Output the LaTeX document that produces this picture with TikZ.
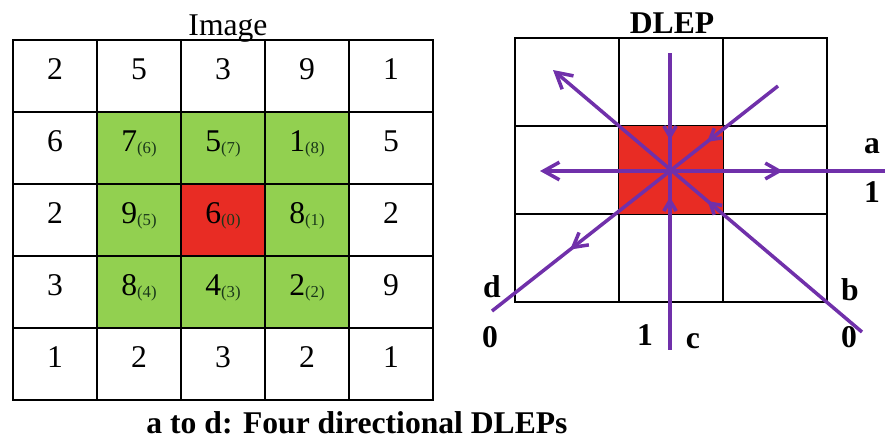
\documentclass[tikz,border=0pt]{standalone}
\usepackage{fontspec}
\setmainfont{Liberation Serif}
\usetikzlibrary{arrows.meta, decorations.markings}
\definecolor{leafgreen}{RGB}{146,208,80}
\definecolor{pixred}{RGB}{232,44,36}
\definecolor{dirpurple}{RGB}{112,48,170}
\definecolor{subink}{RGB}{25,55,25}
\newcommand{\nbr}[1]{\raisebox{-1pt}{\fontsize{9.5}{10}\selectfont\color{subink}(#1)}}

\begin{document}
\begin{tikzpicture}[x=0.02cm, y=-0.02cm,
    pix/.style={draw, line width=1pt, minimum width=1.68cm, minimum height=1.44cm,
                inner sep=0pt, text height=0.68em, text depth=0.28em,
                font=\fontsize{18}{20}\selectfont},
    dcell/.style={draw, line width=0.6pt, minimum width=2.08cm, minimum height=1.76cm, inner sep=0pt},
    dir/.style={line width=2pt, dirpurple},
    midtip/.style={postaction={decorate, decoration={markings,
        mark=at position #1 with {\arrow{Straight Barb[length=6pt, width=7pt]}}}}},
    bigmid/.style={postaction={decorate, decoration={markings,
        mark=at position #1 with {\arrow{Straight Barb[length=8pt, width=9pt]}}}}},
    backtip/.style={postaction={decorate, decoration={markings,
        mark=at position #1 with {\arrowreversed{Straight Barb[length=6pt, width=7pt]}}}}},
    lbl/.style={font=\bfseries\fontsize{18}{20}\selectfont, anchor=base, inner sep=0pt}
]
\useasboundingbox (0,0) rectangle (889,444);

% image patch
\fill[leafgreen] (97,112) rectangle (349,328);
\fill[pixred] (181,184) rectangle (265,256);
\foreach \vals [count=\j from 0] in {{2,5,3,9,1},{6,7\nbr{6},5\nbr{7},1\nbr{8},5},
    {2,9\nbr{5},6\nbr{0},8\nbr{1},2},{3,8\nbr{4},4\nbr{3},2\nbr{2},9},{1,2,3,2,1}}
  \foreach \v [count=\i from 0] in \vals
    \node[pix] (img-\i-\j) at ({55+84*\i},{76+72*\j}) {\v};
\node[font=\fontsize{18}{20}\selectfont, anchor=base, inner sep=0pt] (imgtitle) at (228,35) {Image};

% DLEP grid
\foreach \i in {0,1,2}
  \foreach \j in {0,1,2}
    \node[dcell] (dl-\i-\j) at ({567+104*\i},{82+88*\j}) {};
\fill[pixred, draw=black, line width=0.6pt] (dl-1-1.south west) rectangle (dl-1-1.north east);
\node[lbl] (dleptitle) at (672,33) {DLEP};

% directions
\coordinate (hub) at (670,171);
\coordinate (aL) at (540,171);  \coordinate (aR) at (885,171);
\coordinate (cT) at (670,53);   \coordinate (cB) at (670,350);
\coordinate (bUL) at (553,70);  \coordinate (bLR) at (862,332);
\coordinate (dUR) at (778,86);  \coordinate (dLL) at (492,311);
\draw[dir, {Straight Barb[length=9pt, width=10pt]}-, bigmid=0.704] (aL) -- (aR);
\draw[dir, midtip=0.293, backtip=0.485] (cT) -- (cB);
\draw[dir, -{Straight Barb[length=9pt, width=10pt]}, midtip=0.50] (bLR) -- (bUL);
\draw[dir, midtip=0.248, bigmid=0.727] (dUR) -- (dLL);

\node[lbl] (la) at (872,153) {a};
\node[lbl] (l1a) at (872,202) {1};
\node[lbl] (lb) at (850,300) {b};
\node[lbl] (l0b) at (849,347) {0};
\node[lbl] (lc) at (693,348) {c};
\node[lbl] (l1c) at (645,345) {1};
\node[lbl] (ld) at (492,297) {d};
\node[lbl] (l0d) at (490,347) {0};

\node[lbl] (caption) at (357,433) {a to d: Four directional DLEPs};
\end{tikzpicture}
\end{document}
